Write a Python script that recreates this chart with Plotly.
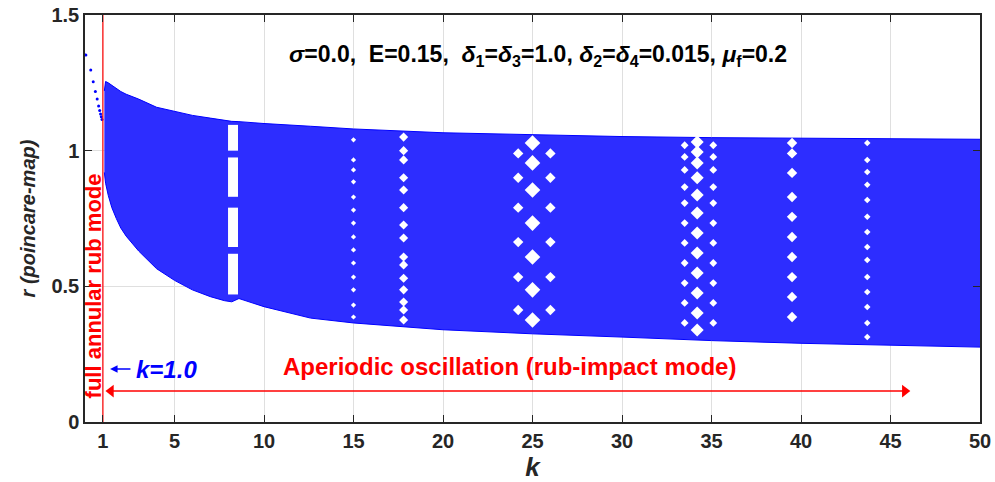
import plotly.graph_objects as go

# ---- data ----
# pre-rub (k<1) Poincare points
k_pre = [0.05, 0.32, 0.46, 0.58, 0.68, 0.76, 0.82, 0.87, 0.91, 0.95]
r_pre = [1.353, 1.297, 1.254, 1.218, 1.19, 1.165, 1.148, 1.135, 1.125, 1.115]

# envelope of the aperiodic (rub-impact) band
k_env = [1.08, 1.15, 1.3, 1.5, 1.75, 2.0, 2.3, 2.6, 3.0, 4.0, 5.0, 6.0, 7.0, 7.8, 8.2, 8.6, 10.0, 12.6, 15.0, 20.0, 25.0, 30.0, 35.0, 40.0, 45.0, 50.0]
r_up = [1.22, 1.255, 1.25, 1.24, 1.228, 1.218, 1.208, 1.20, 1.19, 1.16, 1.145, 1.13, 1.12, 1.112, 1.108, 1.107, 1.10, 1.09, 1.08, 1.066, 1.058, 1.052, 1.048, 1.046, 1.044, 1.042]
r_lo = [0.92, 0.88, 0.835, 0.79, 0.75, 0.715, 0.685, 0.66, 0.63, 0.565, 0.522, 0.487, 0.462, 0.447, 0.443, 0.455, 0.425, 0.383, 0.365, 0.34, 0.325, 0.313, 0.30, 0.29, 0.283, 0.276]

# white lens-shaped gaps at k ~ 8.3 (r ranges)
gap8_k = 8.27
gap8_r = [(1.095, 1.0), (0.975, 0.83), (0.79, 0.645), (0.62, 0.47)]

# columns of white holes (k, list of r, hole size)
holes = [
    (15.0, [1.04, 0.966, 0.929, 0.885, 0.829, 0.781, 0.733, 0.682, 0.634, 0.586, 0.534, 0.487, 0.431, 0.387], 4),
    (17.8, [1.05, 1.0, 0.966, 0.90, 0.855, 0.79, 0.726, 0.678, 0.608, 0.579, 0.53, 0.487, 0.442, 0.413, 0.376], 7),
    (25.0, [1.028, 0.955, 0.855, 0.733, 0.608, 0.487, 0.376], 12),
    (24.2, [0.99, 0.90, 0.79, 0.663, 0.534, 0.413], 8),
    (26.0, [0.99, 0.90, 0.79, 0.663, 0.534, 0.413], 8),
    (34.2, [1.032, 0.995, 0.955, 0.90, 0.837, 0.77, 0.697, 0.623, 0.549, 0.475, 0.402, 0.339], 10),
    (33.5, [1.02, 0.977, 0.929, 0.866, 0.807, 0.733, 0.66, 0.586, 0.512, 0.439, 0.365], 6),
    (35.1, [1.02, 0.977, 0.929, 0.866, 0.807, 0.733, 0.66, 0.586, 0.512, 0.439, 0.365], 6),
    (39.5, [1.028, 0.99, 0.918, 0.829, 0.756, 0.682, 0.608, 0.534, 0.461, 0.387], 8),
    (43.7, [1.028, 0.966, 0.921, 0.874, 0.818, 0.756, 0.70, 0.645, 0.597, 0.534, 0.479, 0.424, 0.365, 0.313], 5),
]

x_ticks = [1, 5, 10, 15, 20, 25, 30, 35, 40, 45, 50]
y_ticks = [0, 0.5, 1, 1.5]

BLUE = "rgb(0,0,255)"
RED = "rgb(255,0,0)"
FONT = "Liberation Sans, Arial, sans-serif"
INK = "rgb(38,38,38)"

fig = go.Figure()

# band: lower edge then upper edge filled
fig.add_trace(go.Scatter(x=k_env, y=r_lo, mode="lines", line=dict(color=BLUE, width=1),
                         showlegend=False, hoverinfo="skip"))
fig.add_trace(go.Scatter(x=k_env, y=r_up, mode="lines", line=dict(color=BLUE, width=1),
                         fill="tonexty", fillcolor="rgb(45,45,255)",
                         showlegend=False, hoverinfo="skip"))

# lens gaps at k~8.3
gx, gy = [], []
for a, b in gap8_r:
    gx += [gap8_k, gap8_k, None]
    gy += [a, b, None]
fig.add_trace(go.Scatter(x=gx, y=gy, mode="lines", line=dict(color="white", width=10),
                         showlegend=False, hoverinfo="skip"))

# hole columns
for kk, rr, sz in holes:
    fig.add_trace(go.Scatter(x=[kk] * len(rr), y=rr, mode="markers",
                             marker=dict(color="white", size=sz, symbol="diamond"),
                             showlegend=False, hoverinfo="skip"))

# pre-rub points
fig.add_trace(go.Scatter(x=k_pre, y=r_pre, mode="markers",
                         marker=dict(color=BLUE, size=3),
                         showlegend=False, hoverinfo="skip"))

# red line at k=1
fig.add_trace(go.Scatter(x=[1, 1], y=[0, 1.5], mode="lines", line=dict(color=RED, width=1.2),
                         showlegend=False, hoverinfo="skip"))

# red double-headed arrow (aperiodic range)
fig.add_trace(go.Scatter(x=[1.45, 45.8], y=[0.114, 0.114], mode="lines+markers",
                         line=dict(color=RED, width=1.6),
                         marker=dict(color=RED, size=11, symbol=["triangle-left", "triangle-right"]),
                         showlegend=False, hoverinfo="skip"))

fig.add_annotation(x=0.45, y=0.5, xref="x", yref="y", text="<b>full annular rub mode</b>",
                   textangle=-90, showarrow=False, font=dict(color=RED, size=22, family=FONT))

fig.add_annotation(x=1.4, y=0.195, xref="x", yref="y", ax=4.55, ay=0.195, axref="x", ayref="y",
                   text="<b><i>k=1.0</i></b>", showarrow=True, arrowhead=2, arrowsize=1,
                   arrowwidth=1.5, arrowcolor=BLUE, standoff=0, startstandoff=4,
                   font=dict(color=BLUE, size=24, family=FONT))

fig.add_annotation(x=23.7, y=0.205, xref="x", yref="y",
                   text="<b>Aperiodic oscillation (rub-impact mode)</b>", showarrow=False,
                   font=dict(color=RED, size=24, family=FONT))

fig.add_annotation(x=25.3, y=1.35, xref="x", yref="y",
                   text="<b><i>σ</i>=0.0,  E=0.15,  <i>δ</i><sub>1</sub>=<i>δ</i><sub>3</sub>=1.0, "
                        "<i>δ</i><sub>2</sub>=<i>δ</i><sub>4</sub>=0.015, <i>μ</i><sub>f</sub>=0.2</b>",
                   showarrow=False, font=dict(color="black", size=23, family=FONT))

fig.update_layout(
    width=995, height=482,
    margin=dict(l=85, r=15, t=15, b=60),
    plot_bgcolor="white", paper_bgcolor="white",
    font=dict(family=FONT, color=INK),
    xaxis=dict(range=[0, 50], tickvals=x_ticks, ticktext=[f"<b>{t}</b>" for t in x_ticks],
               showgrid=True, gridcolor="rgb(223,223,223)", gridwidth=1,
               ticks="inside", ticklen=7, tickcolor=INK,
               showline=True, linecolor=INK, linewidth=1.5, mirror="ticks",
               tickfont=dict(size=20), zeroline=False, automargin=False,
               title=dict(text="<b><i>k</i></b>", font=dict(size=26), standoff=4)),
    yaxis=dict(range=[0, 1.5], tickvals=y_ticks, ticktext=["<b>0</b>", "<b>0.5</b>", "<b>1</b>", "<b>1.5</b>"],
               showgrid=True, gridcolor="rgb(223,223,223)", gridwidth=1,
               ticks="inside", ticklen=7, tickcolor=INK,
               showline=True, linecolor=INK, linewidth=1.5, mirror="ticks",
               tickfont=dict(size=20), zeroline=False, automargin=False,
               title=dict(text="<b><i>r (poincare-map)</i></b>", font=dict(size=20), standoff=10)),
)

fig.write_html("out.html")
